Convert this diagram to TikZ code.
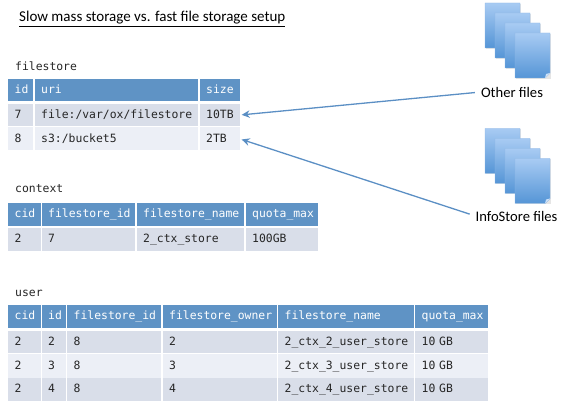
\documentclass[tikz,border=0pt]{standalone}
\usepackage{fontspec}
\setmainfont{Carlito}
\setmonofont{DejaVu Sans Mono}
\usetikzlibrary{arrows.meta}
\definecolor{headblue}{HTML}{5F93C5}
\definecolor{rowdark}{HTML}{D9DEE9}
\definecolor{rowlight}{HTML}{ECEFF6}
\definecolor{arrowblue}{HTML}{5B8FC4}
\definecolor{pagetop}{HTML}{A8CBF3}
\definecolor{pagebot}{HTML}{5595D6}
\definecolor{pageedge}{HTML}{8DB6E4}
\newcommand{\tcell}[7]{\node[#6, minimum width={(#3-#2)*1pt}, minimum height={(#5-#4)*1pt},
  text width={(#3-#2)*1pt-13.4pt}] (#1) at ({(#2+#3)/2},{(#4+#5)/2}) {#7};}
\newcommand{\filepage}[2]{%
  \fill[black!10] (#1+.8,#2+.8) rectangle (#1+35.8,#2+45.6);
  \shade[top color=pagetop,bottom color=pagebot,draw=pageedge,line width=.4pt]
    (#1,#2) -- (#1+35,#2) -- (#1+35,#2+40) -- (#1+30,#2+45) -- (#1,#2+45) -- cycle;
  \fill[pagetop!60!white] (#1+35,#2+40) -- (#1+30,#2+45) -- (#1+31,#2+41) -- cycle;}
\newcommand{\filestack}[2]{%
  \filepage{#1}{#2}\filepage{#1+10}{#2+10}\filepage{#1+20}{#2+20}\filepage{#1+30}{#2+30}}
\tikzset{
  basecell/.style={inner xsep=6.7pt,inner ysep=0pt,align=left,text height=8.5pt,text depth=2pt,
    font=\fontsize{11.4}{13}\ttfamily},
  headcell/.style={basecell,fill=headblue,text=white},
  darkcell/.style={basecell,fill=rowdark,text=black!85},
  lightcell/.style={basecell,fill=rowlight,text=black!85},
  tablename/.style={anchor=west,inner sep=0pt,font=\fontsize{11.4}{13}\ttfamily,text=black!85},
  flabel/.style={inner sep=0pt,font=\fontsize{14.6}{16}\selectfont,text=black},
  flow/.style={draw=arrowblue,line width=1.3pt,-{Stealth[length=8pt,width=7.5pt,inset=2.5pt]}}
}
\begin{document}
\begin{tikzpicture}[x=1pt,y=-1pt]
\useasboundingbox (0,0) rectangle (567,411);
\node[inner sep=0pt,anchor=west,font=\fontsize{15}{17}\selectfont] (title) at (19,19)
  {\underline{Slow mass storage vs. fast file storage setup}};

\filestack{485}{3}
\filestack{485}{128.5}
\node[flabel] (other) at (512,92) {Other files};
\node[flabel] (info) at (516.5,216) {InfoStore files};

% filestore
\node[tablename] (fsname) at (15,66) {filestore};
\tcell{f00}{8}{33}{79}{101.5}{headcell}{id}
\tcell{f01}{34.5}{198}{79}{101.5}{headcell}{uri}
\tcell{f02}{199.5}{240}{79}{101.5}{headcell}{size}
\tcell{f10}{8}{33}{104}{126}{darkcell}{7}
\tcell{f11}{34.5}{198}{104}{126}{darkcell}{file:/var/ox/filestore}
\tcell{f12}{199.5}{240}{104}{126}{darkcell}{10TB}
\tcell{f20}{8}{33}{127.5}{150.5}{lightcell}{8}
\tcell{f21}{34.5}{198}{127.5}{150.5}{lightcell}{s3:/bucket5}
\tcell{f22}{199.5}{240}{127.5}{150.5}{lightcell}{2TB}

% context
\node[tablename] (ctxname) at (15,189) {context};
\tcell{c00}{8}{40.5}{203}{226}{headcell}{cid}
\tcell{c01}{41.5}{135}{203}{226}{headcell}{filestore\_id}
\tcell{c02}{136.5}{244}{203}{226}{headcell}{filestore\_name}
\tcell{c03}{245.5}{318}{203}{226}{headcell}{quota\_max}
\tcell{c10}{8}{40.5}{228.5}{251}{darkcell}{2}
\tcell{c11}{41.5}{135}{228.5}{251}{darkcell}{7}
\tcell{c12}{136.5}{244}{228.5}{251}{darkcell}{2\_ctx\_store}
\tcell{c13}{245.5}{318}{228.5}{251}{darkcell}{100GB}

% user
\node[tablename] (username) at (15,293) {user};
\tcell{u00}{8}{40.5}{305}{328}{headcell}{cid}
\tcell{u01}{41.5}{65.5}{305}{328}{headcell}{id}
\tcell{u02}{67}{161}{305}{328}{headcell}{filestore\_id}
\tcell{u03}{162.5}{277}{305}{328}{headcell}{filestore\_owner}
\tcell{u04}{278}{413.5}{305}{328}{headcell}{filestore\_name}
\tcell{u05}{415}{488}{305}{328}{headcell}{quota\_max}
\tcell{u10}{8}{40.5}{330.5}{353}{darkcell}{2}
\tcell{u11}{41.5}{65.5}{330.5}{353}{darkcell}{2}
\tcell{u12}{67}{161}{330.5}{353}{darkcell}{8}
\tcell{u13}{162.5}{277}{330.5}{353}{darkcell}{2}
\tcell{u14}{278}{413.5}{330.5}{353}{darkcell}{2\_ctx\_2\_user\_store}
\tcell{u15}{415}{488}{330.5}{353}{darkcell}{10 GB}
\tcell{u20}{8}{40.5}{354}{377.5}{lightcell}{2}
\tcell{u21}{41.5}{65.5}{354}{377.5}{lightcell}{3}
\tcell{u22}{67}{161}{354}{377.5}{lightcell}{8}
\tcell{u23}{162.5}{277}{354}{377.5}{lightcell}{3}
\tcell{u24}{278}{413.5}{354}{377.5}{lightcell}{2\_ctx\_3\_user\_store}
\tcell{u25}{415}{488}{354}{377.5}{lightcell}{10 GB}
\tcell{u30}{8}{40.5}{378}{401}{darkcell}{2}
\tcell{u31}{41.5}{65.5}{378}{401}{darkcell}{4}
\tcell{u32}{67}{161}{378}{401}{darkcell}{8}
\tcell{u33}{162.5}{277}{378}{401}{darkcell}{4}
\tcell{u34}{278}{413.5}{378}{401}{darkcell}{2\_ctx\_4\_user\_store}
\tcell{u35}{415}{488}{378}{401}{darkcell}{10 GB}

\draw[flow,shorten >=1.5pt,shorten <=6pt] (other.west) -- (f12.east);
\draw[flow,shorten >=1.5pt,shorten <=6pt] (info.west) -- (f22.east);
\end{tikzpicture}
\end{document}
